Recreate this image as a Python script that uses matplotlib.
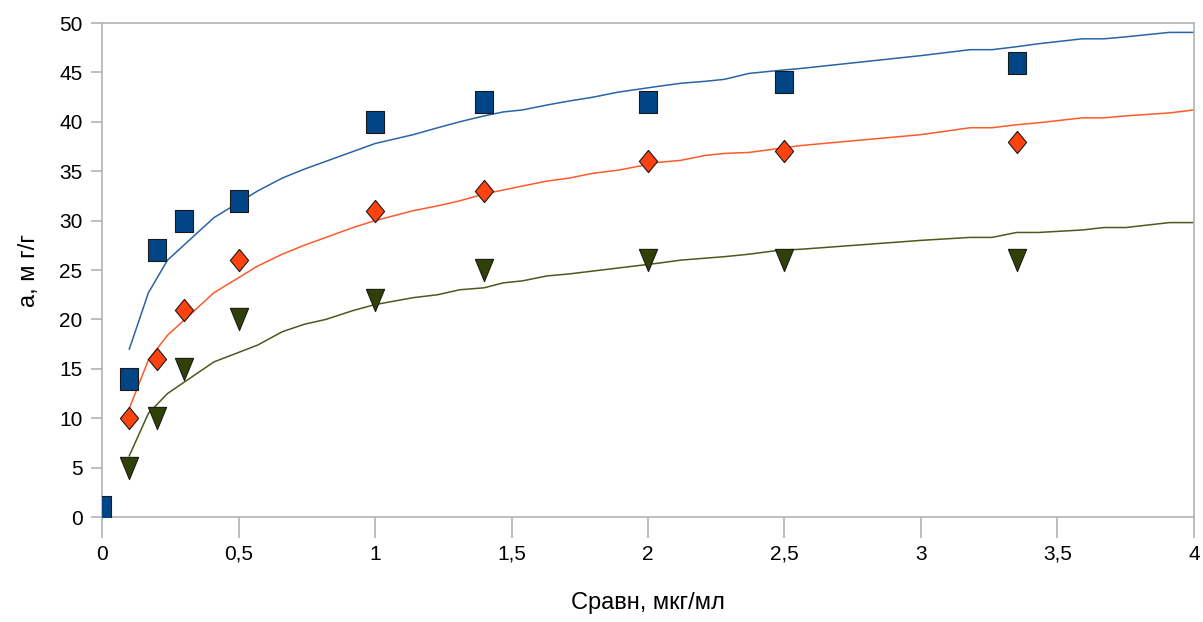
import numpy as np
import matplotlib
matplotlib.use("Agg")
import matplotlib.pyplot as plt

plt.rcParams['font.family'] = ['Liberation Sans Narrow', 'Liberation Sans', 'DejaVu Sans']

# measured points
sq_x = [0, 0.1, 0.2, 0.3, 0.5, 1.0, 1.4, 2.0, 2.5, 3.35]
sq_y = [1, 14, 27, 30, 32, 40, 42, 42, 44, 46]

dm_x = [0.1, 0.2, 0.3, 0.5, 1.0, 1.4, 2.0, 2.5, 3.35]
dm_y = [10, 16, 21, 26, 31, 33, 36, 37, 38]

tr_x = [0.1, 0.2, 0.3, 0.5, 1.0, 1.4, 2.0, 2.5, 3.35]
tr_y = [5, 10, 15, 20, 22, 25, 26, 26, 26]

# fitted curves
fit_x = [0.1, 0.17, 0.24, 0.41, 0.57, 0.66, 0.74, 0.82, 0.92, 1.0, 1.14, 1.23, 1.31,
         1.40, 1.47, 1.54, 1.63, 1.71, 1.80, 1.89, 2.04, 2.12, 2.21, 2.28, 2.37,
         2.48, 2.56, 3.0, 3.18, 3.26, 3.35, 3.43, 3.59, 3.67, 3.75, 3.91, 4.0]
fit_blue = [17.0, 22.7, 26.0, 30.3, 33.0, 34.3, 35.2, 36.0, 37.0, 37.8, 38.7, 39.4, 40.0,
            40.6, 41.0, 41.2, 41.7, 42.1, 42.5, 43.0, 43.6, 43.9, 44.1, 44.3, 44.9,
            45.2, 45.4, 46.7, 47.3, 47.3, 47.6, 47.9, 48.4, 48.4, 48.6, 49.05, 49.05]
fit_orange = [11.0, 15.9, 18.4, 22.7, 25.4, 26.6, 27.5, 28.3, 29.3, 30.0, 31.0, 31.5, 32.0,
              32.7, 33.1, 33.5, 34.0, 34.3, 34.8, 35.1, 35.9, 36.1, 36.6, 36.8, 36.9,
              37.3, 37.6, 38.7, 39.4, 39.4, 39.7, 39.9, 40.4, 40.4, 40.6, 40.9, 41.2]
fit_green = [6.2, 10.5, 12.5, 15.7, 17.4, 18.75, 19.5, 20.0, 20.9, 21.5, 22.2, 22.5, 23.0,
             23.2, 23.7, 23.9, 24.4, 24.6, 24.9, 25.2, 25.7, 26.0, 26.2, 26.35, 26.6,
             27.0, 27.1, 28.0, 28.3, 28.3, 28.8, 28.8, 29.05, 29.3, 29.3, 29.8, 29.8]

x_ticks = [0, 0.5, 1, 1.5, 2, 2.5, 3, 3.5, 4]
x_labels = ['0', '0,5', '1', '1,5', '2', '2,5', '3', '3,5', '4']
y_ticks = list(range(0, 51, 5))

BLUE = '#004586'
ORANGE = '#ff420e'
GREEN = '#314004'
GRAY = '#b3b3b3'

# markers are a bit taller than wide in the original
w = 0.82
square = [(-w, -1), (w, -1), (w, 1), (-w, 1), (-w, -1)]
diamond = [(0, 1), (w, 0), (0, -1), (-w, 0), (0, 1)]
tri_down = [(-w, 1), (w, 1), (0, -1), (-w, 1)]

fig = plt.figure(figsize=(12.03, 6.22), dpi=100)
ax = fig.add_axes([0.0848, 0.1688, 0.9077, 0.7942])

ax.plot(fit_x, fit_blue, color='#2a64a8', lw=1.1, zorder=2)
ax.plot(fit_x, fit_orange, color='#ff5a2a', lw=1.1, zorder=2)
ax.plot(fit_x, fit_green, color='#4a5a1c', lw=1.1, zorder=2)

ms = 16
ax.plot(sq_x, sq_y, ls='none', marker=square, ms=ms, mfc=BLUE, mec='#1a1a1a', mew=0.8, zorder=3)
ax.plot(dm_x, dm_y, ls='none', marker=diamond, ms=ms, mfc=ORANGE, mec='#1a1a1a', mew=0.8, zorder=3)
ax.plot(tr_x, tr_y, ls='none', marker=tri_down, ms=ms, mfc=GREEN, mec='#1a1a1a', mew=0.8, zorder=3)

ax.set_xlim(0, 4)
ax.set_ylim(0, 50)
ax.set_xticks(x_ticks)
ax.set_xticklabels(x_labels)
ax.set_yticks(y_ticks)

for s in ax.spines.values():
    s.set_color(GRAY)
    s.set_linewidth(1.2)

ax.tick_params(axis='x', length=15, width=1.2, color=GRAY, labelsize=15, pad=5)
ax.tick_params(axis='y', length=8, width=1.2, color=GRAY, labelsize=15, pad=6)

ax.set_xlabel('Сравн, мкг/мл', fontsize=17, labelpad=20)
ax.set_ylabel('а, м г/г', fontsize=17, labelpad=14)

fig.savefig('out.png', dpi=100)
